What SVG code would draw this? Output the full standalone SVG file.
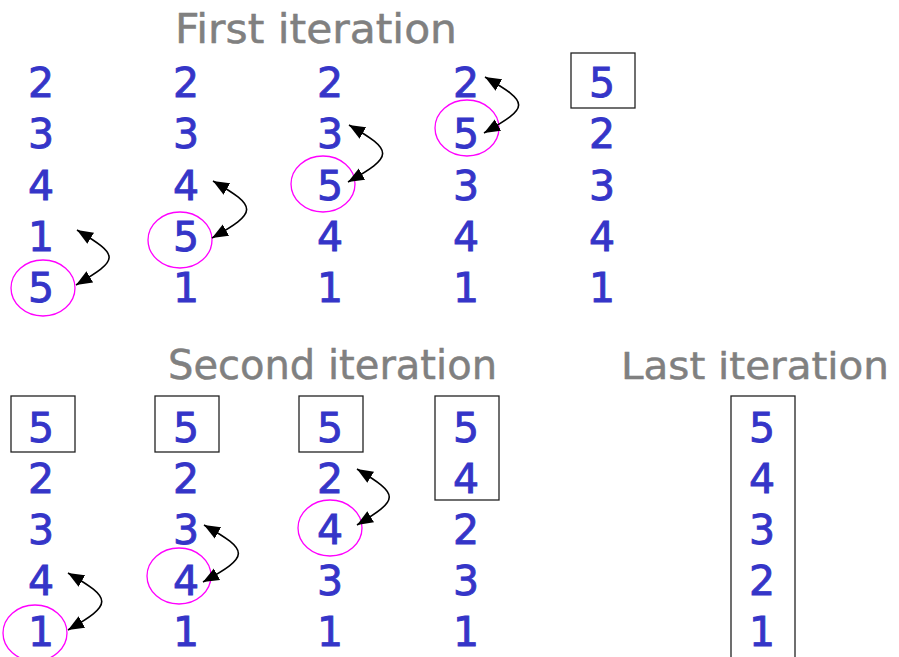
<svg xmlns="http://www.w3.org/2000/svg" width="899" height="657" viewBox="0 0 899 657">
<style>
.t{font-family:"DejaVu Sans","Liberation Sans",sans-serif;font-size:41px;fill:#808080;stroke:#808080;stroke-width:0.5}
.d{font-family:"DejaVu Sans","Liberation Sans",sans-serif;font-size:41px;fill:#3535c8;stroke:#3535c8;stroke-width:0.9;text-anchor:middle}
.box{fill:none;stroke:#222;stroke-width:1.3}
.ring{fill:none;stroke:#ff00ff;stroke-width:1.3}
.arr{fill:none;stroke:#000;stroke-width:1.6;marker-start:url(#ah);marker-end:url(#ah)}
</style>
<defs>
<marker id="ah" markerUnits="userSpaceOnUse" markerWidth="18" markerHeight="14" refX="16" refY="6.5" orient="auto-start-reverse" viewBox="0 0 18 13">
<path d="M0,0 L16,6.5 L0,13 Z" fill="#000"/>
</marker>
</defs>
<rect width="899" height="657" fill="#fff"/>
<g id="titles">
<text class="t" x="175" y="43" textLength="282" lengthAdjust="spacingAndGlyphs">First iteration</text>
<text class="t" x="168" y="379" textLength="329" lengthAdjust="spacingAndGlyphs">Second iteration</text>
<text class="t" x="621" y="379" textLength="268" lengthAdjust="spacingAndGlyphs" style="font-size:38px">Last iteration</text>
</g>
<g id="top-col1">
<text class="d" x="41" y="97">2</text><text class="d" x="41" y="148">3</text><text class="d" x="41" y="200">4</text><text class="d" x="41" y="251">1</text><text class="d" x="41" y="302">5</text>
<ellipse class="ring" cx="43" cy="288" rx="32" ry="28"/>
</g>
<g id="top-col2">
<text class="d" x="186" y="97">2</text><text class="d" x="186" y="148">3</text><text class="d" x="186" y="200">4</text><text class="d" x="186" y="251">5</text><text class="d" x="186" y="302">1</text>
<ellipse class="ring" cx="180" cy="240" rx="32" ry="28"/>
</g>
<g id="top-col3">
<text class="d" x="330" y="97">2</text><text class="d" x="330" y="148">3</text><text class="d" x="330" y="200">5</text><text class="d" x="330" y="251">4</text><text class="d" x="330" y="302">1</text>
<ellipse class="ring" cx="323" cy="184" rx="32" ry="28"/>
</g>
<g id="top-col4">
<text class="d" x="466" y="97">2</text><text class="d" x="466" y="148">5</text><text class="d" x="466" y="200">3</text><text class="d" x="466" y="251">4</text><text class="d" x="466" y="302">1</text>
<ellipse class="ring" cx="467" cy="128" rx="32" ry="28"/>
</g>
<g id="top-col5">
<rect class="box" x="571" y="53" width="64" height="55"/>
<text class="d" x="602" y="97">5</text><text class="d" x="602" y="148">2</text><text class="d" x="602" y="200">3</text><text class="d" x="602" y="251">4</text><text class="d" x="602" y="302">1</text>
</g>
<g id="sec-col1">
<rect class="box" x="11" y="396" width="64" height="56"/>
<text class="d" x="41" y="442">5</text><text class="d" x="41" y="493">2</text><text class="d" x="41" y="544">3</text><text class="d" x="41" y="595">4</text><text class="d" x="41" y="646">1</text>
<ellipse class="ring" cx="35" cy="633" rx="32" ry="28"/>
</g>
<g id="sec-col2">
<rect class="box" x="155" y="396" width="64" height="56"/>
<text class="d" x="186" y="442">5</text><text class="d" x="186" y="493">2</text><text class="d" x="186" y="544">3</text><text class="d" x="186" y="595">4</text><text class="d" x="186" y="646">1</text>
<ellipse class="ring" cx="179" cy="576" rx="32" ry="28"/>
</g>
<g id="sec-col3">
<rect class="box" x="299" y="396" width="64" height="56"/>
<text class="d" x="330" y="442">5</text><text class="d" x="330" y="493">2</text><text class="d" x="330" y="544">4</text><text class="d" x="330" y="595">3</text><text class="d" x="330" y="646">1</text>
<ellipse class="ring" cx="330" cy="528" rx="32" ry="28"/>
</g>
<g id="sec-col4">
<rect class="box" x="435" y="396" width="64" height="104"/>
<text class="d" x="466" y="442">5</text><text class="d" x="466" y="493">4</text><text class="d" x="466" y="544">2</text><text class="d" x="466" y="595">3</text><text class="d" x="466" y="646">1</text>
</g>
<g id="last-col">
<rect class="box" x="731" y="396" width="64" height="270"/>
<text class="d" x="762" y="442">5</text><text class="d" x="762" y="493">4</text><text class="d" x="762" y="544">3</text><text class="d" x="762" y="595">2</text><text class="d" x="762" y="646">1</text>
</g>
<g id="connectors">
<path class="arr" d="M77,230 C120,256 120,259 76,285"/>
<path class="arr" d="M213,181 C258,207 258,212 212,238"/>
<path class="arr" d="M349,125 C394,151 394,156 348,182"/>
<path class="arr" d="M485,77 C530,103 530,107 484,133"/>
<path class="arr" d="M68,573 C113,599 113,604 68,630"/>
<path class="arr" d="M204,525 C250,551 250,556 203,582"/>
<path class="arr" d="M357,469 C400,495 400,499 357,525"/>
</g>
</svg>
